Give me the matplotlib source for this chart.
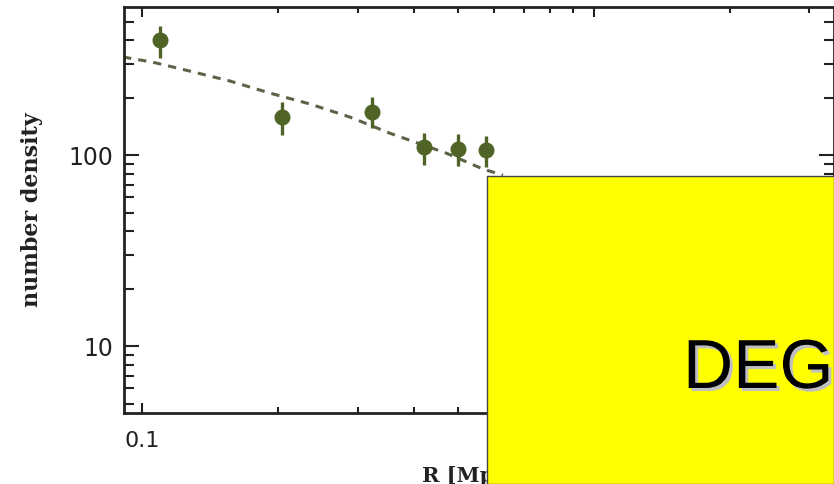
"""
Radial number density profile (log-log) with a dashed model curve,
partly covered by a yellow "DEGRADED" placeholder box.
"""

import matplotlib

matplotlib.use("Agg")
import matplotlib.pyplot as plt
import matplotlib.patheffects as pe
from matplotlib.patches import Rectangle
from matplotlib.ticker import LogLocator, NullFormatter, FixedFormatter, FixedLocator

# measured points
radius = [0.1096, 0.204, 0.323, 0.421, 0.500, 0.577]
density = [400, 158, 168, 110, 107, 106]
err_hi = [473, 189, 201, 130, 129, 126]
err_lo = [322, 127, 138, 89, 87.5, 86.5]

# dashed model curve
model_r = [0.0908, 0.1052, 0.1277, 0.1566, 0.192, 0.2354, 0.2886, 0.354, 0.473, 0.568, 0.629]
model_n = [326, 307, 275, 244, 211, 185, 158, 130, 102, 84.5, 78.5]

POINT_COLOR = "#4f6426"
LINE_COLOR = "#5c6448"

W, H = 834, 484
fig = plt.figure(figsize=(W / 100, H / 100), dpi=100)
ax = fig.add_axes([124 / W, 1 - 413 / H, (834 - 124) / W, (413 - 7) / H])

ax.set_xscale("log")
ax.set_yscale("log")
ax.set_xlim(0.0912, 3.40)
ax.set_ylim(4.46, 596)

ax.plot(model_r, model_n, color=LINE_COLOR, linewidth=2.2, dashes=(2.7, 2.3))

yerr = [[d - lo for d, lo in zip(density, err_lo)], [hi - d for d, hi in zip(density, err_hi)]]
ax.errorbar(radius, density, yerr=yerr, fmt="o", color=POINT_COLOR, markersize=10.5,
            elinewidth=2.4, capsize=0, zorder=3)

# ticks
ax.xaxis.set_major_locator(FixedLocator([0.1, 1.0]))
ax.xaxis.set_major_formatter(FixedFormatter(["0.1", "1"]))
ax.xaxis.set_minor_locator(LogLocator(base=10, subs=range(2, 10)))
ax.xaxis.set_minor_formatter(NullFormatter())
ax.yaxis.set_major_locator(FixedLocator([10, 100]))
ax.yaxis.set_major_formatter(FixedFormatter(["10", "100"]))
ax.yaxis.set_minor_locator(LogLocator(base=10, subs=range(2, 10)))
ax.yaxis.set_minor_formatter(NullFormatter())

ax.tick_params(which="both", direction="in", top=True, right=True, color="#222222")
ax.tick_params(axis="x", which="major", length=7, width=1.5, pad=13, labelsize=16)
ax.tick_params(axis="x", which="minor", length=4, width=1.5)
ax.tick_params(axis="y", which="major", length=11, width=1.5, pad=8, labelsize=17)
ax.tick_params(axis="y", which="minor", length=7, width=1.5)
for lab in ax.get_xticklabels() + ax.get_yticklabels():
    lab.set_family("DejaVu Sans")
    lab.set_color("#222222")

for sp in ax.spines.values():
    sp.set_linewidth(2)
    sp.set_color("#222222")

ax.set_ylabel("number density", family="DejaVu Serif", fontweight="bold", fontsize=16,
              color="#222222")
ax.yaxis.set_label_coords(-0.114, 0.5)
ax.set_xlabel("R [Mpc]", family="DejaVu Serif", fontweight="bold", fontsize=15,
              color="#222222", ha="left")
ax.xaxis.set_label_coords((422 - 124) / (834 - 124), -0.13)

# yellow placeholder box on top of everything
box = Rectangle((487 / W, 0), 1 - 487 / W, 1 - 176 / H, transform=fig.transFigure,
                facecolor="#ffff00", edgecolor="#444444", linewidth=1, zorder=10)
fig.add_artist(box)
fig.text(683 / W, 1 - 388 / H, "DEGRADED", fontsize=50, family="Liberation Sans",
         color="black", va="baseline", ha="left", zorder=12,
         path_effects=[pe.SimplePatchShadow(offset=(2.2, -2.2), shadow_rgbFace="#c0c0c0", alpha=1),
                       pe.Normal()])

fig.savefig("out.png", dpi=100)
